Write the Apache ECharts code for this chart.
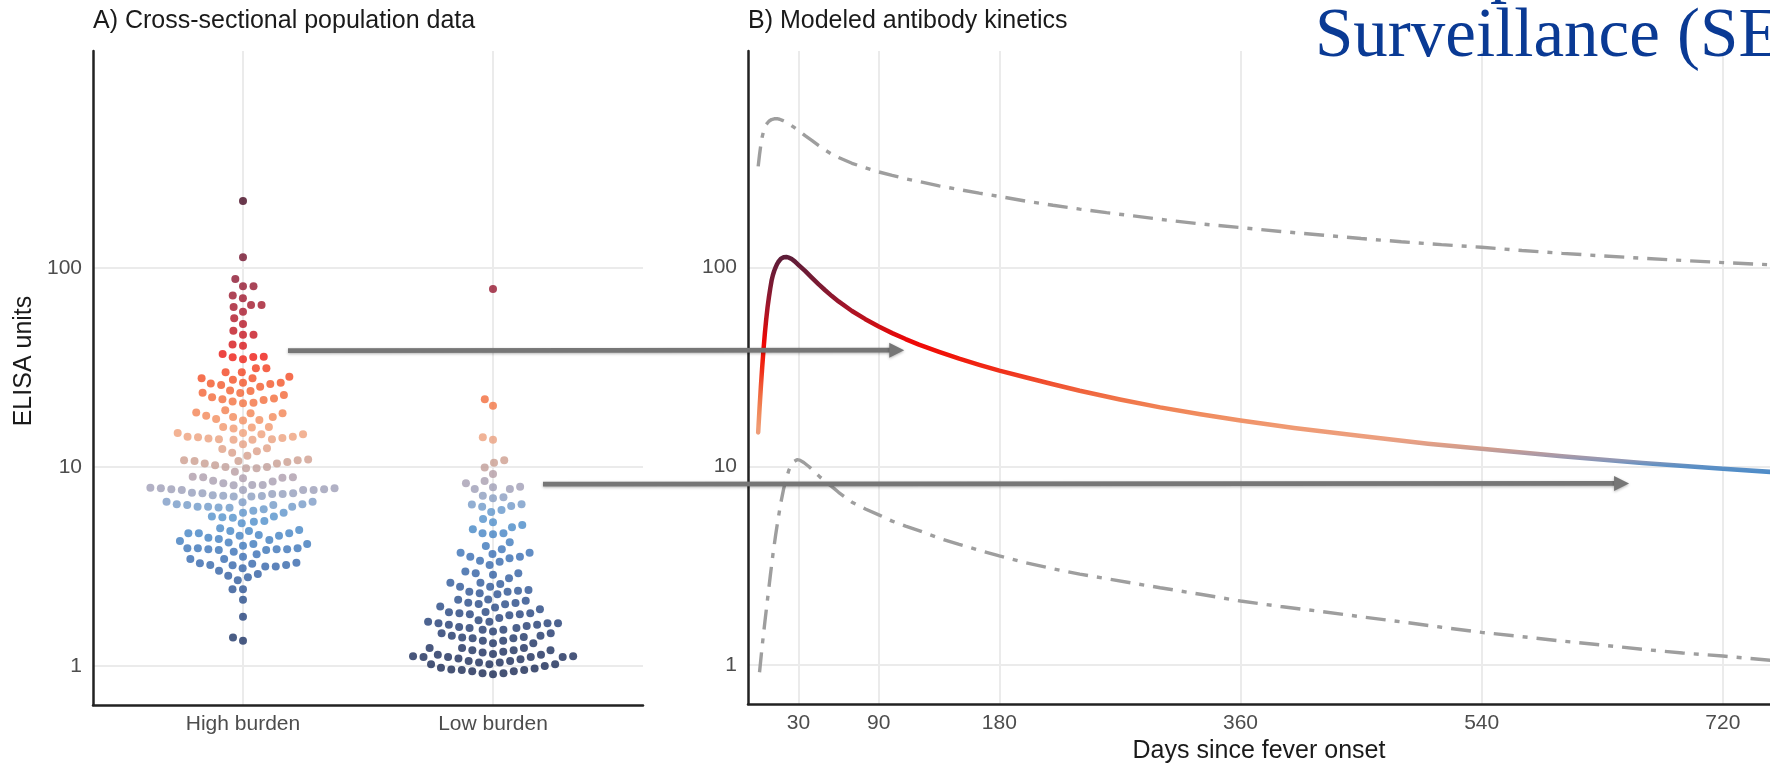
<!DOCTYPE html>
<html><head><meta charset="utf-8">
<script src="https://cdn.jsdelivr.net/npm/echarts@6/dist/echarts.min.js"></script>
<style>html,body{margin:0;padding:0;background:#fff;overflow:hidden}#c{width:1770px;height:769px}</style>
</head><body><div id="c"></div>
<script>
// ---------- DATA ----------
const categories = ['High burden', 'Low burden'];
const yTicks = [1, 10, 100];
const dayTicks = [30, 90, 180, 360, 540, 720];

const highBurden = [217, 113, 88, 81, 81, 72.6, 70.4, 65.2, 65.2, 63.7, 60.3, 55.9, 52.3, 48.4, 46.1, 46.1, 41.2, 40.7,
  35.8, 35.6, 34.8, 35.7, 36.9,
  31.3, 31.3, 29.9, 29.9,
  28.4, 27.9, 27.9, 27.4, 26.5, 26.5, 26.3, 26.1, 25.8, 25.3,
  24.2, 24.1, 23.6, 23.5, 23.0, 22.4, 22.1, 21.9, 21.7, 21.3, 21.0, 20.9,
  19.3, 18.8, 18.6, 18.6, 18.1, 17.8, 17.8, 17.4, 17.2, 17.1, 15.9, 15.9, 15.8, 15.6,
  14.8, 14.8, 14.6, 14.6, 14.2, 14.2, 14.1, 14.0, 13.9, 13.8, 13.8, 13.7, 13.7, 13.0,
  12.4, 12.3, 12.0, 11.8, 11.4,
  10.9, 10.8, 10.8, 10.7, 10.7, 10.6, 10.4, 10.4, 10.2, 10.0, 10.0, 9.85, 9.85, 9.47,
  8.94, 8.87, 8.87, 8.83, 8.77, 8.53, 8.44, 8.28, 8.12, 8.12, 8.09,
  7.87, 7.82, 7.82, 7.73, 7.73, 7.66, 7.66, 7.66, 7.66, 7.43, 7.38, 7.38, 7.32, 7.32, 7.21, 7.17, 7.15, 7.10, 7.10,
  6.69, 6.69, 6.65, 6.50, 6.50, 6.44, 6.44, 6.32, 6.32, 6.32, 6.26, 6.24, 6.13, 6.03,
  5.89, 5.89, 5.63, 5.63, 5.59, 5.56, 5.35, 5.31, 5.21,
  4.92, 4.82, 4.77, 4.77, 4.64, 4.64, 4.64, 4.55, 4.51, 4.51, 4.41, 4.35, 4.30,
  4.25, 4.17, 4.10, 4.10, 4.02, 3.90, 3.90, 3.90, 3.86, 3.86, 3.86, 3.83, 3.83, 3.75,
  3.64, 3.54, 3.45, 3.45, 3.30, 3.28, 3.26, 3.22, 3.22, 3.21, 3.16, 3.16, 3.10, 3.01, 2.90, 2.84, 2.79, 2.70,
  2.43, 2.43, 2.15, 1.77, 1.39, 1.34];

const lowBurden = [78.4, 21.9, 20.3, 14.1, 13.7, 10.8, 10.5, 9.93, 9.22,
  8.51, 8.28, 7.96, 7.91, 7.75, 7.75,
  7.17, 7.04, 6.96,
  6.50, 6.47, 6.37, 6.32, 6.08, 5.94,
  5.48, 5.27, 5.11, 4.98, 4.86,
  4.64, 4.64, 4.59,
  4.18, 4.01,
  3.86, 3.71, 3.71, 3.65, 3.54, 3.54, 3.48, 3.38, 3.34,
  3.22, 2.98, 2.92, 2.92, 2.87, 2.76,
  2.62, 2.62, 2.58, 2.50, 2.50, 2.41, 2.39, 2.36, 2.36, 2.32, 2.29,
  2.16, 2.15, 2.13, 2.08, 2.07, 2.05, 2.04, 1.99,
  1.97, 1.93, 1.87, 1.86, 1.84, 1.84, 1.82, 1.82, 1.80, 1.74,
  1.70, 1.67, 1.67, 1.64, 1.64, 1.64, 1.61, 1.61, 1.59, 1.57, 1.55, 1.55, 1.52, 1.52, 1.49, 1.46,
  1.46, 1.42, 1.42, 1.40, 1.39, 1.38, 1.38, 1.34, 1.34, 1.30, 1.30, 1.23, 1.23, 1.23, 1.20, 1.18,
  1.20, 1.20, 1.17, 1.15, 1.14, 1.14, 1.12, 1.12, 1.11, 1.11, 1.11, 1.11, 1.09, 1.08, 1.06, 1.06, 1.04, 1.04,
  1.02, 1.02, 1.02, 1.00, 0.98, 0.97, 0.96, 0.955, 0.955, 0.94, 0.94, 0.92, 0.92, 0.91];

const mainDays = [0, 1, 2, 3, 4, 5, 6, 7, 8, 9, 10, 11, 12, 13, 14, 15, 16, 17, 18, 19, 20, 21, 22, 23, 25, 27.5, 30, 35, 40, 45, 50, 55, 60, 70, 80, 90, 100, 110, 120, 135, 150, 165, 180, 200, 220, 240, 270, 300, 330, 360, 400, 450, 500, 540, 600, 660, 720, 760];
const mainVals = [14.8, 19.5, 25.1, 31.6, 38.9, 46.8, 55.0, 63.1, 70.8, 78.5, 86.1, 91.8, 96.4, 100.2, 103.8, 106.7, 109.1, 110.9, 111.9, 112.7, 113.0, 113.0, 112.7, 112.2, 110.4, 107.2, 103.3, 96.2, 89.1, 82.6, 76.9, 71.9, 67.6, 60.5, 55.0, 50.5, 46.8, 43.7, 41.0, 37.7, 34.8, 32.4, 30.3, 28.0, 25.9, 24.0, 21.7, 19.8, 18.3, 17.0, 15.6, 14.2, 13.0, 12.25, 11.25, 10.4, 9.73, 9.33];

const upperDays = [0, 1, 2, 3, 4, 5, 6, 8, 10, 12, 14, 16, 18, 22, 26, 30, 35, 40, 45, 50, 55, 60, 70, 80, 90, 100, 110, 120, 135, 150, 165, 180, 200, 220, 240, 260, 280, 300, 330, 360, 390, 420, 450, 480, 510, 540, 570, 600, 630, 660, 690, 720, 760];
const upperVals = [323, 370, 415, 455, 485, 508, 525, 545, 556, 561, 562, 558, 551, 535, 512, 490, 462, 437, 412, 390, 372, 358, 335, 318, 303, 291, 280, 271, 258, 247, 237, 228, 216, 206, 197, 189, 182, 175, 166, 159, 152, 146, 140, 135, 130.5, 126.5, 122, 118, 114.5, 111.5, 108.6, 106, 103];

const lowerDays = [1, 3, 5, 7, 9, 11, 13, 15, 17, 19, 21, 23, 25, 27, 29, 31, 34, 38, 42, 46, 50, 55, 60, 70, 80, 90, 100, 110, 120, 135, 150, 165, 180, 200, 220, 240, 260, 280, 300, 330, 360, 390, 420, 450, 480, 510, 540, 570, 600, 630, 660, 690, 720, 760];
const lowerVals = [0.92, 1.25, 1.65, 2.15, 2.8, 3.6, 4.5, 5.5, 6.6, 7.7, 8.7, 9.6, 10.2, 10.6, 10.8, 10.75, 10.45, 9.95, 9.4, 8.85, 8.4, 7.9, 7.4, 6.6, 6.1, 5.7, 5.3, 5.0, 4.75, 4.35, 4.05, 3.78, 3.54, 3.27, 3.05, 2.87, 2.72, 2.58, 2.45, 2.27, 2.1, 1.97, 1.86, 1.75, 1.65, 1.55, 1.46, 1.39, 1.32, 1.26, 1.2, 1.15, 1.11, 1.05];

// arrows: start in panel A (category units, ELISA), end in panel B (day)
const arrowStartX = [0.18, 1.2];
const arrowY = [38.4, 8.2];
const arrowEndDay = [109, 650];

// ---------- STYLE ----------
const FONT = 'Liberation Sans, Arial, sans-serif';
const L = v => Math.log10(v);
const yMin = -0.196, yMax = 3.09;

const dotStops = [
  [-0.05, '#172650'], [0.1, '#1b2f5f'], [0.25, '#22407a'], [0.4, '#2c5596'], [0.55, '#376cb2'],
  [0.68, '#4486c6'], [0.76, '#5693cc'], [0.82, '#7a9bc6'], [0.88, '#9a9eb9'], [0.95, '#ae9cab'],
  [1.02, '#c99d90'], [1.1, '#e3a085'], [1.17, '#f0a079'], [1.25, '#f28a5a'], [1.33, '#f36f3e'],
  [1.42, '#f25628'], [1.5, '#f23a1c'], [1.56, '#ec1612'], [1.65, '#c8141e'], [1.78, '#a8162a'],
  [1.92, '#921630'], [2.05, '#72102c'], [2.34, '#440720']];
const lineStops = [
  [0.96, '#4a8bc9'], [1.005, '#5f90c4'], [1.03, '#8e97b6'], [1.06, '#ae9aa4'], [1.09, '#cf9d8e'],
  [1.13, '#eba082'], [1.2, '#f09a72'], [1.27, '#f08a5c'], [1.35, '#f07045'], [1.42, '#f05030'],
  [1.48, '#f0301a'], [1.56, '#f01408'], [1.63, '#ee0606'], [1.7, '#d00e12'], [1.8, '#a3152a'], [1.9, '#7e1a32'], [2.06, '#5c1c38']];

function hexToRgb(h) { const n = parseInt(h.slice(1), 16); return [n >> 16 & 255, n >> 8 & 255, n & 255]; }
function colorAt(stops, t) {
  if (t <= stops[0][0]) return stops[0][1];
  if (t >= stops[stops.length - 1][0]) return stops[stops.length - 1][1];
  for (let k = 0; k < stops.length - 1; k++) {
    const a = stops[k][0], b = stops[k + 1][0];
    if (t >= a && t <= b) {
      const f = (t - a) / (b - a), A = hexToRgb(stops[k][1]), B = hexToRgb(stops[k + 1][1]);
      return 'rgb(' + A.map((v, i) => Math.round(v + (B[i] - v) * f)).join(',') + ')';
    }
  }
}
const lvMin = 0.95, lvMax = 2.06, NC = 120;
const lineColors = Array.from({length: NC}, (_, k) => colorAt(lineStops, lvMin + k * (lvMax - lvMin) / (NC - 1)));

const gridLine = {show: true, lineStyle: {color: '#ebebeb', width: 2}};
const axLine = {show: true, onZero: false, lineStyle: {color: '#222', width: 2.5}};
const tickLab = {color: '#4d4d4d', fontSize: 21, fontFamily: FONT};
const dashStyle = {width: 3.4, color: '#9e9e9e', type: [20, 9, 5, 9]};

function yAxisFor(g) {
  return {type: 'value', gridIndex: g, min: yMin, max: yMax, axisLine: axLine,
    axisTick: {show: false, customValues: yTicks.map(L)},
    axisLabel: Object.assign({customValues: yTicks.map(L), margin: 11,
      formatter: v => String(Math.round(Math.pow(10, v)))}, tickLab),
    splitLine: gridLine};
}

const chart = echarts.init(document.getElementById('c'), null, {width: 1770, height: 769});
chart.setOption({
  animation: false,
  backgroundColor: '#fff',
  grid: [{left: 93, top: 51, width: 550, height: 654}, {left: 748, top: 51, width: 1040, height: 654}],
  xAxis: [
    {type: 'value', gridIndex: 0, min: -0.6, max: 1.6, axisLine: axLine,
      axisTick: {show: false, customValues: [0, 1]},
      axisLabel: Object.assign({customValues: [0, 1], margin: 9, formatter: v => categories[Math.round(v)]}, tickLab),
      splitLine: gridLine},
    {type: 'value', gridIndex: 1, min: -7.6, max: 755.2, axisLine: axLine,
      axisTick: {show: false, customValues: dayTicks},
      axisLabel: Object.assign({customValues: dayTicks, margin: 9}, tickLab),
      splitLine: gridLine,
      name: 'Days since fever onset', nameLocation: 'middle', nameGap: 35,
      nameTextStyle: {fontSize: 25, color: '#1a1a1a', fontFamily: FONT}}
  ],
  yAxis: [yAxisFor(0), yAxisFor(1)],
  visualMap: [{type: 'continuous', show: false, seriesIndex: 2, dimension: 1, min: lvMin, max: lvMax,
    inRange: {color: lineColors}}],
  series: [
    {type: 'scatter', xAxisIndex: 0, yAxisIndex: 0, symbolSize: 8, data: [],
      itemStyle: {color: p => colorAt(dotStops, p.value[1])}},
    {type: 'scatter', xAxisIndex: 0, yAxisIndex: 0, symbolSize: 8, data: [],
      itemStyle: {color: p => colorAt(dotStops, p.value[1])}},
    {type: 'line', xAxisIndex: 1, yAxisIndex: 1, showSymbol: false, smooth: false, z: 3,
      lineStyle: {width: 4.5, join: 'round', cap: 'round'}, data: mainDays.map((d, i) => [d, L(mainVals[i])])},
    {type: 'line', xAxisIndex: 1, yAxisIndex: 1, showSymbol: false, smooth: false, z: 2,
      lineStyle: dashStyle, itemStyle: {color: '#9e9e9e'},
      data: upperDays.map((d, i) => [d, L(upperVals[i])])},
    {type: 'line', xAxisIndex: 1, yAxisIndex: 1, showSymbol: false, smooth: false, z: 2,
      lineStyle: dashStyle, itemStyle: {color: '#9e9e9e'},
      data: lowerDays.map((d, i) => [d, L(lowerVals[i])])}
  ]
});

// ---------- beeswarm layout (swarm, ascending priority) in pixel space ----------
const o = chart.convertToPixel({gridIndex: 0}, [0, 0]);
const q = chart.convertToPixel({gridIndex: 0}, [1, 1]);
const pxX = q[0] - o[0], pxY = o[1] - q[1];
const D = 10.5;
function swarm(values) {
  const pts = values.map((v, i) => ({i, y: L(v) * pxY}));
  const order = pts.slice().sort((a, b) => a.y - b.y);
  const placed = [], xs = new Array(values.length);
  for (const p of order) {
    const cands = [0];
    for (const r of placed) {
      const dy = Math.abs(p.y - r.y);
      if (dy < D) { const dx = Math.sqrt(D * D - dy * dy); cands.push(r.x + dx, r.x - dx); }
    }
    cands.sort((a, b) => (Math.abs(a) - Math.abs(b)) || (a - b));
    let chosen = 0;
    for (const c of cands) {
      let ok = true;
      for (const r of placed) {
        const dx = c - r.x, dy = p.y - r.y;
        if (dx * dx + dy * dy < D * D - 1e-6) { ok = false; break; }
      }
      if (ok) { chosen = c; break; }
    }
    placed.push({x: chosen, y: p.y});
    xs[p.i] = chosen;
  }
  return xs;
}
const hx = swarm(highBurden), lx = swarm(lowBurden);

// ---------- arrows & texts ----------
const graphics = [];
for (let k = 0; k < arrowY.length; k++) {
  const s = chart.convertToPixel({gridIndex: 0}, [arrowStartX[k], L(arrowY[k])]);
  const e = chart.convertToPixel({gridIndex: 1}, [arrowEndDay[k], L(arrowY[k])]);
  const hl = 15, hh = 7.5;
  graphics.push({type: 'line', z: 100, shape: {x1: s[0], y1: s[1], x2: e[0] - hl + 1, y2: e[1]},
    style: {stroke: '#767676', lineWidth: 4.8, shadowBlur: 3, shadowColor: 'rgba(0,0,0,0.3)', shadowOffsetY: 1}});
  graphics.push({type: 'polygon', z: 100, shape: {points: [[e[0], e[1]], [e[0] - hl, e[1] - hh], [e[0] - hl, e[1] + hh]]},
    style: {fill: '#767676', shadowBlur: 3, shadowColor: 'rgba(0,0,0,0.3)', shadowOffsetY: 1}});
}
graphics.push(
  {type: 'text', left: 93, top: 9, style: {text: 'A) Cross-sectional population data', fontSize: 25, fontFamily: FONT, fill: '#1a1a1a'}},
  {type: 'text', left: 748, top: 9, style: {text: 'B) Modeled antibody kinetics', fontSize: 25, fontFamily: FONT, fill: '#1a1a1a'}},
  {type: 'text', x: 24, y: 361, rotation: Math.PI / 2,
    style: {text: 'ELISA units', fontSize: 25, fontFamily: FONT, fill: '#1a1a1a', align: 'center', verticalAlign: 'middle'}},
  {type: 'text', x: 1315, y: 38, style: {text: 'Surveillance (SE', fontSize: 69, fontFamily: 'Liberation Serif, serif', fill: '#0a3a94', verticalAlign: 'middle'}},
  {type: 'text', x: 1490, y: -29, style: {text: 'p', fontSize: 69, fontFamily: 'Liberation Serif, serif', fill: '#0a3a94', verticalAlign: 'middle'}}
);

chart.setOption({
  series: [
    {data: highBurden.map((v, i) => [0 + hx[i] / pxX, L(v)])},
    {data: lowBurden.map((v, i) => [1 + lx[i] / pxX, L(v)])}
  ],
  graphic: graphics
});
</script></body></html>
